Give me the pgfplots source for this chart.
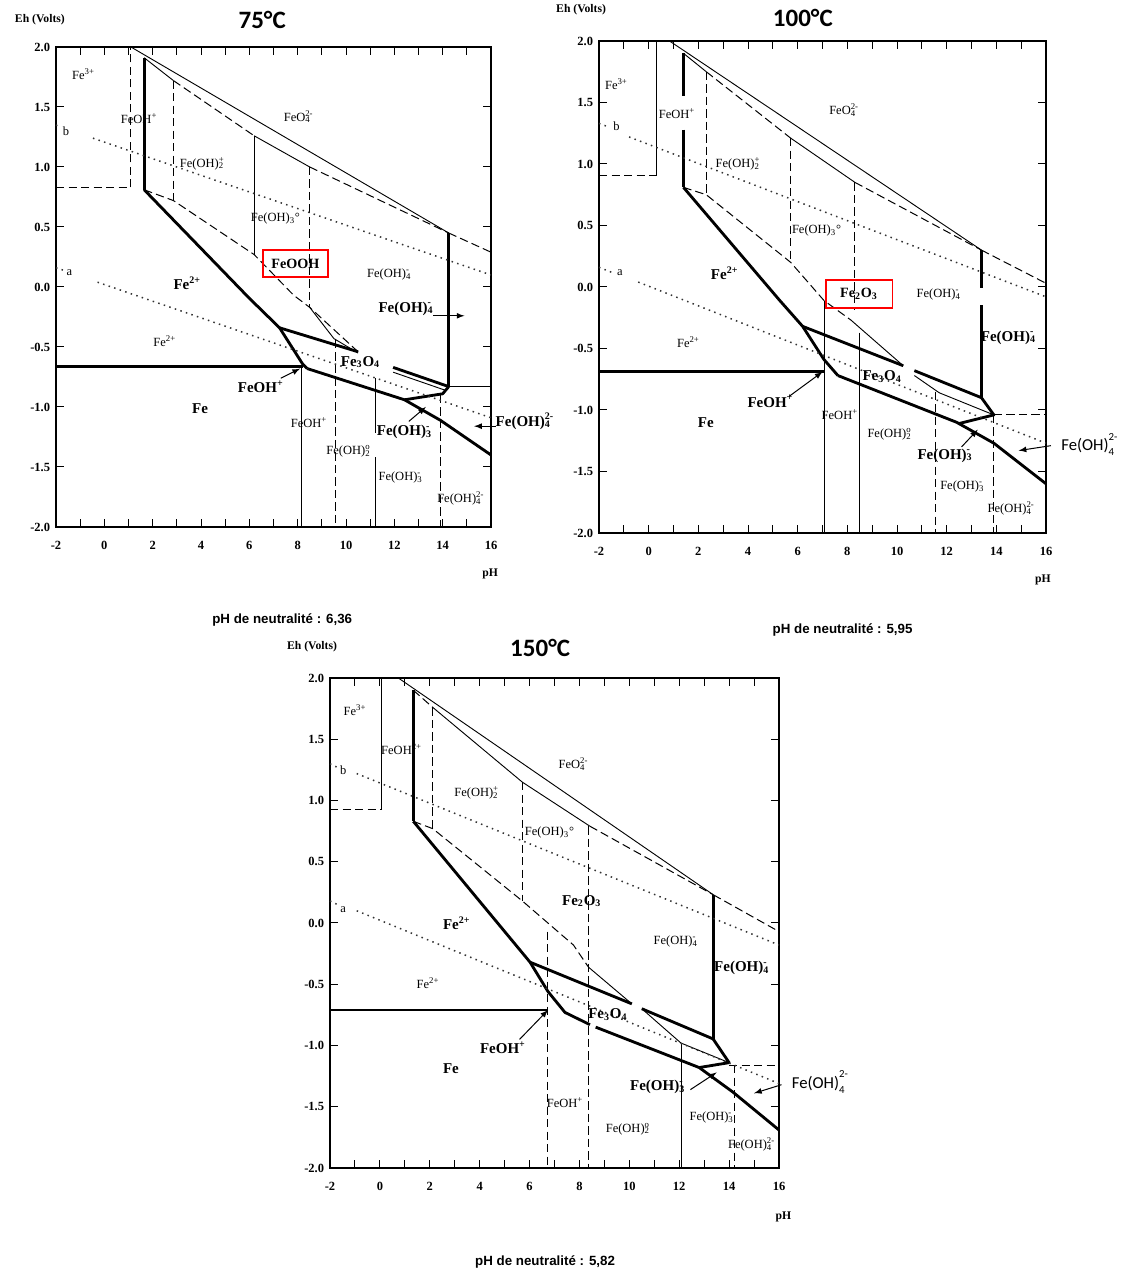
\documentclass[border=0pt]{standalone}
\usepackage{fontspec}
\setmainfont{Liberation Serif}
\newfontfamily\calibri{Carlito}
\newfontfamily\arial{Liberation Sans}
\usepackage{pgfplots}
\pgfplotsset{compat=1.18}
\newcommand{\sub}[1]{\textsubscript{#1}}
\newcommand{\sups}[1]{\textsuperscript{#1}}
\newcommand{\subsup}[2]{\rlap{\textsubscript{#1}}\textsuperscript{#2}}
\newcommand{\subsupc}[2]{\rlap{\raisebox{-0.32em}{\fontsize{6.5}{7}\selectfont #1}}\raisebox{0.62em}{\fontsize{6.5}{7}\selectfont #2}}
\tikzset{
 thk/.style={line width=1.7pt, black, line join=round},
 thn/.style={line width=0.55pt, black},
 dsh/.style={line width=0.6pt, black, dash pattern=on 5pt off 2.5pt},
 dtt/.style={line width=0.9pt, black!80, dash pattern=on 0.9pt off 2.6pt},
 lab/.style={font=\fontsize{7.5}{8}\selectfont, inner sep=0pt},
 labb/.style={font=\bfseries\fontsize{9}{10}\selectfont, inner sep=0pt},
 labc/.style={font=\calibri\fontsize{10}{11}\selectfont, inner sep=0pt},
 arr/.style={-latex, line width=0.6pt, black},
 ttl/.style={font=\calibri\bfseries\fontsize{15}{16}\selectfont},
 neu/.style={font=\arial\bfseries\fontsize{8}{9}\selectfont},
 ehl/.style={font=\bfseries\fontsize{7}{8}\selectfont},
}
\pgfplotsset{pourbaix/.style={
 scale only axis, xmin=-2, xmax=16, ymin=-2, ymax=2,
 xtick={-2,0,...,16}, minor xtick={-1,1,...,15},
 ytick={-2,-1.5,...,2},
 tick align=inside, major tick length=5pt, minor tick length=5pt,
 axis line style={line width=1.1pt},
 tick style={line width=0.6pt, black},
 /pgf/number format/assume math mode=true,
 ticklabel style={font=\bfseries\fontsize{7.5}{8}\selectfont},
 yticklabel style={/pgf/number format/.cd, fixed, fixed zerofill, precision=1},
 xticklabel style={yshift=-5pt},
 clip=false, no markers,
}}
\begin{document}
\begin{tikzpicture}
\path[use as bounding box] (0,0) rectangle (675.6pt,762.6pt);

%================ 75 C =================
\begin{axis}[pourbaix, at={(33.6pt,446.4pt)}, width=261pt, height=288pt]
\addplot[dsh] coordinates {(-2,0.83) (1.1,0.83)};
\addplot[dsh] coordinates {(1.1,0.83) (1.1,2.0)};
\addplot[thn] coordinates {(1.1,2.0) (14.25,0.45)};
\addplot[dsh] coordinates {(14.25,0.45) (16,0.29)};
\addplot[thk] coordinates {(1.65,1.91) (1.65,0.81)};
\addplot[thn] coordinates {(1.65,1.91) (2.86,1.72)};
\addplot[dsh] coordinates {(2.86,1.72) (6.2,1.26)};
\addplot[thn] coordinates {(6.2,1.26) (8.5,1.0)};
\addplot[dsh] coordinates {(8.5,1.0) (14.25,0.45)};
\addplot[dsh] coordinates {(2.86,1.72) (2.86,0.72)};
\addplot[thn] coordinates {(6.2,1.26) (6.2,0.27)};
\addplot[dsh] coordinates {(8.5,1.0) (8.5,-0.17)};
\addplot[dsh] coordinates {(1.65,0.81) (2.86,0.72) (6.2,0.27) (7.84,-0.07) (8.5,-0.17) (10.5,-0.54)};
\addplot[thn] coordinates {(8.5,-0.17) (9.5,-0.43) (10.5,-0.55)};
\addplot[thk] coordinates {(1.65,0.81) (5.98,-0.09) (7.25,-0.34) (8.2,-0.64) (8.4,-0.68)};
\addplot[thk] coordinates {(-2,-0.66) (8.2,-0.66)};
\addplot[thk] coordinates {(8.4,-0.68) (12.42,-0.94) (13.9,-1.11) (16,-1.40)};
\addplot[thk] coordinates {(7.25,-0.34) (10.5,-0.54)};
\addplot[thk] coordinates {(11.95,-0.67) (14.25,-0.83)};
\addplot[thn] coordinates {(11.95,-0.71) (14.1,-0.86)};
\addplot[thk] coordinates {(14.25,0.45) (14.25,-0.83)};
\addplot[thn] coordinates {(14.25,-0.83) (16,-0.83)};
\addplot[thk] coordinates {(14.25,-0.83) (14.0,-0.89) (12.42,-0.94)};
\addplot[thn] coordinates {(8.17,-0.66) (8.17,-2)};
\addplot[dsh] coordinates {(9.55,-0.44) (9.55,-2)};
\addplot[thn] coordinates {(11.2,-0.76) (11.2,-1.22)};
\addplot[thn] coordinates {(11.2,-1.42) (11.2,-2)};
\addplot[dsh] coordinates {(13.9,-0.9) (13.9,-2)};
\addplot[dtt] coordinates {(-0.47,1.24) (16,0.10)};
\addplot[dtt] coordinates {(-0.28,0.04) (16,-1.09)};
\addplot[dtt] coordinates {(-2,1.35) (-1.8,1.33)};
\addplot[dtt] coordinates {(-2,0.16) (-1.7,0.14)};
\addplot[arr] coordinates {(13.6,-0.24) (14.9,-0.24)};
\addplot[arr] coordinates {(7.3,-0.76) (8.1,-0.68)};
\addplot[arr] coordinates {(12.6,-1.12) (13.3,-1.0)};
\addplot[arr] coordinates {(16.2,-1.16) (15.3,-1.16)};
\node[lab] at (axis cs:-1.59,1.30) {b};
\node[lab] at (axis cs:-1.45,0.12) {a};
\node[lab] at (axis cs:-0.86,1.77) {Fe\sups{3+}};
\node[lab] at (axis cs:1.44,1.40) {FeOH\sups{+}};
\node[lab] at (axis cs:8.04,1.42) {FeO\subsup{4}{2-}};
\node[lab] at (axis cs:4.05,1.03) {Fe(OH)\subsup{2}{+}};
\node[lab] at (axis cs:7.08,0.57) {Fe(OH)\sub{3}°};
\node[draw=red, line width=1pt, minimum width=39pt, minimum height=16pt, inner sep=0pt, font=\bfseries\fontsize{8.5}{9}\selectfont] at (axis cs:7.91,0.196) {FeOOH};
\node[lab] at (axis cs:11.76,0.106) {Fe(OH)\subsup{4}{-}};
\node[labb] at (axis cs:3.43,0.03) {Fe\sups{2+}};
\node[labb] at (axis cs:12.45,-0.18) {Fe(OH)\subsup{4}{-}};
\node[lab] at (axis cs:2.5,-0.45) {Fe\sups{2+}};
\node[labb] at (axis cs:10.6,-0.625) {Fe\sub{3}O\sub{4}};
\node[labb] at (axis cs:6.47,-0.83) {FeOH\sups{+}};
\node[labb] at (axis cs:3.96,-1.01) {Fe};
\node[lab] at (axis cs:8.47,-1.13) {FeOH\sups{+}};
\node[labb] at (axis cs:12.38,-1.21) {Fe(OH)\subsup{3}{-}};
\node[lab] at (axis cs:10.1,-1.37) {Fe(OH)\subsup{2}{o}};
\node[lab] at (axis cs:12.23,-1.59) {Fe(OH)\subsup{3}{-}};
\node[lab] at (axis cs:14.75,-1.76) {Fe(OH)\subsup{4}{2-}};
\node[labb] at (axis cs:17.4,-1.12) {Fe(OH)\subsup{4}{2-}};
\node[ehl] at (rel axis cs:-0.037,1.056) {Eh (Volts)};
\node[ehl] at (rel axis cs:0.998,-0.098) {pH};
\node[ttl] at (rel axis cs:0.474,1.056) {75°C};
\node[neu] at (rel axis cs:0.52,-0.194) {pH de neutralité : 6,36};
\end{axis}

%================ 100 C =================
\begin{axis}[pourbaix, at={(359.4pt,442.8pt)}, width=268.2pt, height=295.2pt]
\addplot[dsh] coordinates {(-2,0.91) (0.32,0.91)};
\addplot[thn] coordinates {(0.32,0.91) (0.32,2)};
\addplot[thn] coordinates {(0.84,2) (13.4,0.30)};
\addplot[dsh] coordinates {(13.4,0.30) (16,0.03)};
\addplot[thk] coordinates {(1.40,1.90) (1.40,1.55)};
\addplot[thk] coordinates {(1.40,1.28) (1.40,0.81)};
\addplot[thn] coordinates {(1.40,1.90) (2.32,1.75)};
\addplot[dsh] coordinates {(2.32,1.75) (5.72,1.21)};
\addplot[thn] coordinates {(5.72,1.21) (8.31,0.85)};
\addplot[dsh] coordinates {(8.31,0.85) (13.4,0.30)};
\addplot[dsh] coordinates {(2.32,1.75) (2.32,0.75)};
\addplot[dsh] coordinates {(5.72,1.21) (5.72,0.20)};
\addplot[dsh] coordinates {(8.28,0.85) (8.28,-0.19)};
\addplot[dsh] coordinates {(1.40,0.81) (2.32,0.75) (5.72,0.20) (7.06,-0.11) (8.15,-0.27)};
\addplot[thn] coordinates {(8.15,-0.27) (10.25,-0.64)};
\addplot[thk] coordinates {(1.40,0.81) (5.28,-0.11) (6.2,-0.32) (7.06,-0.59) (7.62,-0.72)};
\addplot[thk] coordinates {(-2,-0.69) (7.06,-0.69)};
\addplot[thk] coordinates {(7.62,-0.72) (12.4,-1.10) (13.9,-1.27) (16,-1.60)};
\addplot[thk] coordinates {(6.2,-0.32) (10.25,-0.64)};
\addplot[thk] coordinates {(10.7,-0.68) (13.4,-0.90)};
\addplot[thk] coordinates {(13.4,0.30) (13.4,-0.01)};
\addplot[thk] coordinates {(13.4,-0.15) (13.4,-0.90)};
\addplot[thk] coordinates {(13.4,-0.90) (13.9,-1.04) (12.5,-1.11)};
\addplot[dsh] coordinates {(13.9,-1.04) (16,-1.04)};
\addplot[thn] coordinates {(10.7,-0.72) (11.7,-0.86) (13.9,-1.04)};
\addplot[thn] coordinates {(7.06,-0.11) (7.06,-2)};
\addplot[thn] coordinates {(8.47,-0.37) (8.47,-2)};
\addplot[dsh] coordinates {(11.57,-0.85) (11.57,-2)};
\addplot[dsh] coordinates {(13.9,-1.04) (13.9,-2)};
\addplot[dtt] coordinates {(-0.79,1.22) (16,-0.08)};
\addplot[dtt] coordinates {(-0.42,0.04) (16,-1.27)};
\addplot[dtt] coordinates {(-2,1.33) (-1.6,1.30)};
\addplot[dtt] coordinates {(-2,0.16) (-1.5,0.12)};
\addplot[arr] coordinates {(5.65,-0.89) (7.0,-0.69)};
\addplot[arr] coordinates {(12.6,-1.30) (13.25,-1.16)};
\addplot[arr] coordinates {(16.2,-1.29) (14.9,-1.33)};
\node[lab] at (axis cs:-1.3,1.31) {b};
\node[lab] at (axis cs:-1.16,0.12) {a};
\node[lab] at (axis cs:-1.3,1.65) {Fe\sups{3+}};
\node[lab] at (axis cs:1.14,1.41) {FeOH\sups{+}};
\node[lab] at (axis cs:7.87,1.44) {FeO\subsup{4}{2-}};
\node[lab] at (axis cs:3.6,1.0) {Fe(OH)\subsup{2}{+}};
\node[lab] at (axis cs:6.76,0.46) {Fe(OH)\sub{3}°};
\node[labb] at (axis cs:3.06,0.11) {Fe\sups{2+}};
\node[draw=red, line width=1pt, minimum width=40pt, minimum height=17pt, inner sep=0pt, font=\bfseries\fontsize{8.5}{9}\selectfont] at (axis cs:8.47,-0.057) {Fe\sub{2}O\sub{3}};
\node[lab] at (axis cs:11.65,-0.06) {Fe(OH)\subsup{4}{-}};
\node[labb] at (axis cs:14.45,-0.41) {Fe(OH)\subsup{4}{-}};
\node[lab] at (axis cs:1.6,-0.45) {Fe\sups{2+}};
\node[labb] at (axis cs:9.4,-0.73) {Fe\sub{3}O\sub{4}};
\node[labb] at (axis cs:4.9,-0.93) {FeOH\sups{+}};
\node[labb] at (axis cs:2.3,-1.10) {Fe};
\node[lab] at (axis cs:7.7,-1.04) {FeOH\sups{+}};
\node[lab] at (axis cs:9.7,-1.2) {Fe(OH)\subsup{2}{o}};
\node[labb] at (axis cs:11.9,-1.37) {Fe(OH)\subsup{3}{-}};
\node[lab] at (axis cs:12.6,-1.62) {Fe(OH)\subsup{3}{-}};
\node[lab] at (axis cs:14.6,-1.80) {Fe(OH)\subsup{4}{2-}};
\node[labc] at (axis cs:17.75,-1.28) {Fe(OH)\subsupc{4}{2-}};
\node[ehl] at (rel axis cs:-0.04,1.063) {Eh (Volts)};
\node[ehl] at (rel axis cs:0.993,-0.096) {pH};
\node[ttl] at (rel axis cs:0.456,1.047) {100°C};
\node[neu] at (rel axis cs:0.545,-0.197) {pH de neutralité : 5,95};
\end{axis}

%================ 150 C =================
\begin{axis}[pourbaix, at={(198pt,61.8pt)}, width=269.4pt, height=294pt]
\addplot[dsh] coordinates {(-2,0.93) (0.07,0.93)};
\addplot[thn] coordinates {(0.07,0.93) (0.07,2)};
\addplot[thn] coordinates {(0.74,2) (13.37,0.23)};
\addplot[dsh] coordinates {(13.37,0.23) (16,-0.07)};
\addplot[thk] coordinates {(1.34,1.90) (1.34,0.83)};
\addplot[dsh] coordinates {(1.34,1.90) (2.12,1.76)};
\addplot[thn] coordinates {(2.12,1.76) (5.71,1.15) (8.42,0.79)};
\addplot[dsh] coordinates {(8.42,0.79) (13.37,0.23)};
\addplot[dsh] coordinates {(2.12,1.76) (2.12,0.77)};
\addplot[dsh] coordinates {(5.71,1.15) (5.71,0.18)};
\addplot[dsh] coordinates {(8.38,0.79) (8.38,-2)};
\addplot[dsh] coordinates {(6.7,-0.07) (6.7,-2)};
\addplot[dsh] coordinates {(1.34,0.83) (2.12,0.77) (5.71,0.18) (7.76,-0.18) (8.36,-0.36)};
\addplot[thn] coordinates {(8.36,-0.36) (10.1,-0.66)};
\addplot[thk] coordinates {(1.34,0.83) (6.02,-0.32) (6.74,-0.56) (7.42,-0.73) (8.42,-0.83)};
\addplot[thk] coordinates {(-2,-0.71) (6.74,-0.71)};
\addplot[thk] coordinates {(8.65,-0.85) (12.8,-1.18) (14.15,-1.38) (16,-1.69)};
\addplot[thk] coordinates {(6.02,-0.32) (10.1,-0.66)};
\addplot[thk] coordinates {(10.5,-0.70) (13.4,-0.95)};
\addplot[thk] coordinates {(13.37,0.23) (13.37,-0.95)};
\addplot[thk] coordinates {(13.37,-0.95) (14.0,-1.14) (12.8,-1.18)};
\addplot[dsh] coordinates {(14.0,-1.16) (16,-1.16)};
\addplot[thn] coordinates {(10.5,-0.70) (12.07,-0.98) (14.0,-1.14)};
\addplot[thn] coordinates {(12.07,-0.98) (12.07,-2)};
\addplot[dsh] coordinates {(14.2,-1.16) (14.2,-2)};
\addplot[dtt] coordinates {(-0.93,1.22) (16,-0.18)};
\addplot[dtt] coordinates {(-0.93,0.10) (16,-1.31)};
\addplot[dtt] coordinates {(-2,1.30) (-1.7,1.27)};
\addplot[dtt] coordinates {(-2,0.18) (-1.7,0.15)};
\addplot[arr] coordinates {(5.6,-0.95) (6.74,-0.71)};
\addplot[arr] coordinates {(12.45,-1.36) (13.5,-1.22)};
\addplot[arr] coordinates {(16.1,-1.32) (15.0,-1.39)};
\node[lab] at (axis cs:-1.47,1.25) {b};
\node[lab] at (axis cs:-1.47,0.11) {a};
\node[lab] at (axis cs:-1.0,1.74) {Fe\sups{3+}};
\node[lab] at (axis cs:0.87,1.42) {FeOH\sups{2+}};
\node[lab] at (axis cs:7.76,1.30) {FeO\subsup{4}{2-}};
\node[lab] at (axis cs:3.88,1.06) {Fe(OH)\subsup{2}{+}};
\node[lab] at (axis cs:6.8,0.74) {Fe(OH)\sub{3}°};
\node[labb] at (axis cs:8.09,0.18) {Fe\sub{2}O\sub{3}};
\node[labb] at (axis cs:3.08,0.0) {Fe\sups{2+}};
\node[lab] at (axis cs:11.83,-0.15) {Fe(OH)\subsup{4}{-}};
\node[labb] at (axis cs:14.47,-0.37) {Fe(OH)\subsup{4}{-}};
\node[lab] at (axis cs:1.93,-0.49) {Fe\sups{2+}};
\node[labb] at (axis cs:9.14,-0.75) {Fe\sub{3}O\sub{4}};
\node[labb] at (axis cs:4.93,-1.02) {FeOH\sups{+}};
\node[labb] at (axis cs:2.85,-1.19) {Fe};
\node[labb] at (axis cs:11.1,-1.34) {Fe(OH)\subsup{3}{-}};
\node[lab] at (axis cs:7.42,-1.47) {FeOH\sups{+}};
\node[lab] at (axis cs:9.94,-1.68) {Fe(OH)\subsup{2}{o}};
\node[lab] at (axis cs:13.27,-1.59) {Fe(OH)\subsup{3}{-}};
\node[lab] at (axis cs:14.9,-1.81) {Fe(OH)\subsup{4}{2-}};
\node[labc] at (axis cs:17.64,-1.30) {Fe(OH)\subsupc{4}{2-}};
\node[ehl] at (rel axis cs:-0.04,1.063) {Eh (Volts)};
\node[ehl] at (rel axis cs:1.01,-0.10) {pH};
\node[ttl] at (rel axis cs:0.468,1.061) {150°C};
\node[neu] at (rel axis cs:0.479,-0.192) {pH de neutralité : 5,82};
\end{axis}
\end{tikzpicture}
\end{document}
